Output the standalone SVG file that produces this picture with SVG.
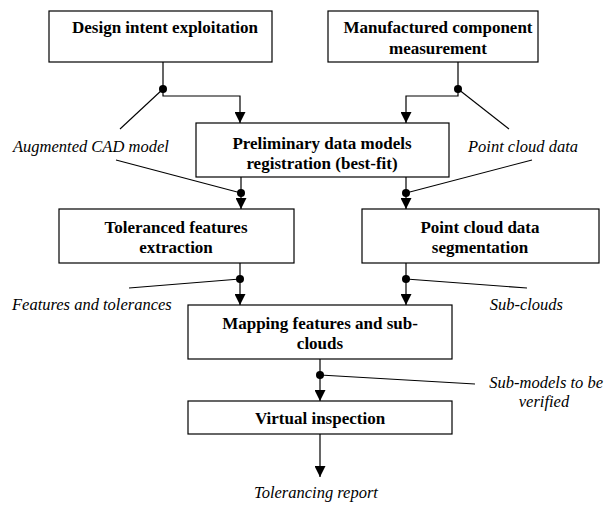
<svg xmlns="http://www.w3.org/2000/svg" width="605" height="505" viewBox="0 0 605 505">
<defs>
<marker id="ah" markerUnits="userSpaceOnUse" markerWidth="11" markerHeight="11" refX="11" refY="5.5" orient="auto" viewBox="0 0 11 11">
<path d="M0,0 L11,5.5 L0,11 Z" fill="#000"/>
</marker>
<style>
.box{fill:#fff;stroke:#000;stroke-width:1.2}
.t{font-family:Liberation Serif,DejaVu Serif,Times New Roman,serif;font-weight:bold;font-size:17px;text-anchor:middle;fill:#000}
.l{font-family:Liberation Serif,DejaVu Serif,Times New Roman,serif;font-style:italic;font-size:16.5px;fill:#000}
.c{fill:none;stroke:#000;stroke-width:1.1}
.a{fill:none;stroke:#000;stroke-width:1.2;marker-end:url(#ah)}
.d{fill:#000}
</style>
</defs>
<rect width="605" height="505" fill="#fff"/>
<g id="connectors">
<path class="a" d="M163,62 V96 H240 V123"/>
<path class="a" d="M458,62 V96 H406 V123"/>
<path class="a" d="M241,177 V209"/>
<path class="a" d="M406,177 V209"/>
<path class="a" d="M240,263 V305"/>
<path class="a" d="M406,263 V305"/>
<path class="a" d="M320,359 V401"/>
<path class="a" d="M320,434 V477"/>
<path class="c" d="M163,89 L120,129"/>
<path class="c" d="M458,89 L509,129"/>
<path class="c" d="M116,160 L241,193"/>
<path class="c" d="M532,160 L406,193"/>
<path class="c" d="M129,288 L240,279"/>
<path class="c" d="M406,279 L527,288"/>
<path class="c" d="M320,375 L475,384"/>
<circle class="d" cx="163" cy="89" r="4"/>
<circle class="d" cx="458" cy="89" r="4"/>
<circle class="d" cx="241" cy="193" r="4"/>
<circle class="d" cx="406" cy="193" r="4"/>
<circle class="d" cx="240" cy="279" r="4"/>
<circle class="d" cx="406" cy="279" r="4"/>
<circle class="d" cx="320" cy="375" r="4"/>
</g>
<g id="design">
<rect class="box" x="49" y="11" width="223" height="51"/>
<text class="t" x="165" y="33">Design intent exploitation</text>
</g>
<g id="manufactured">
<rect class="box" x="328" y="11" width="210" height="51"/>
<text class="t" x="438" y="33">Manufactured component</text>
<text class="t" x="438" y="54">measurement</text>
</g>
<g id="registration">
<rect class="box" x="196" y="123" width="253" height="54"/>
<text class="t" x="322" y="149">Preliminary data models</text>
<text class="t" x="322" y="169">registration (best-fit)</text>
</g>
<g id="extraction">
<rect class="box" x="59" y="209" width="235" height="54"/>
<text class="t" x="176" y="233">Toleranced features</text>
<text class="t" x="176" y="253">extraction</text>
</g>
<g id="segmentation">
<rect class="box" x="362" y="209" width="237" height="54"/>
<text class="t" x="480" y="233">Point cloud data</text>
<text class="t" x="480" y="253">segmentation</text>
</g>
<g id="mapping">
<rect class="box" x="188" y="305" width="264" height="54"/>
<text class="t" x="320" y="329">Mapping features and sub-</text>
<text class="t" x="320" y="349">clouds</text>
</g>
<g id="inspection">
<rect class="box" x="188" y="401" width="264" height="33"/>
<text class="t" x="320" y="424">Virtual inspection</text>
</g>
<g id="labels">
<text class="l" x="13" y="152">Augmented CAD model</text>
<text class="l" x="578" y="152" text-anchor="end">Point cloud data</text>
<text class="l" x="12" y="310">Features and tolerances</text>
<text class="l" x="563" y="310" text-anchor="end">Sub-clouds</text>
<text class="l" x="603" y="388" text-anchor="end">Sub-models to be</text>
<text class="l" x="544" y="407" text-anchor="middle">verified</text>
<text class="l" x="316" y="498" text-anchor="middle">Tolerancing report</text>
</g>
</svg>
